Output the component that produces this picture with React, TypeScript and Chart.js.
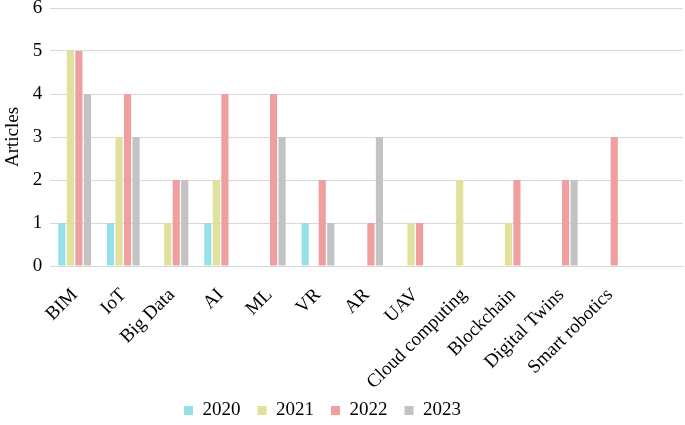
import React, { useEffect, useRef } from "react";
import { Chart, registerables } from "chart.js";

Chart.register(...registerables);

const categories = [
  "BIM", "IoT", "Big Data", "AI", "ML", "VR", "AR", "UAV",
  "Cloud computing", "Blockchain", "Digital Twins", "Smart robotics", "",
];
const years = ["2020", "2021", "2022", "2023"];
const v2020 = [1, 1, 0, 1, 0, 1, 0, 0, 0, 0, 0, 0, 0];
const v2021 = [5, 3, 1, 2, 0, 0, 0, 1, 2, 1, 0, 0, 0];
const v2022 = [5, 4, 2, 4, 4, 2, 1, 1, 0, 2, 2, 3, 0];
const v2023 = [4, 3, 2, 0, 3, 1, 3, 0, 0, 0, 2, 0, 0];
const colors = ["#96e1e8", "#e1e19b", "#ef9f9f", "#c3c3c3"];

const legendShift = {
  id: "legendShift",
  afterLayout(chart: any) {
    if (chart.legend) {
      chart.legend.top -= 7;
      chart.legend.bottom -= 7;
      chart.legend.left -= 20;
      chart.legend.right -= 20;
    }
  },
};

export default function App() {
  const ref = useRef<HTMLCanvasElement | null>(null);
  useEffect(() => {
    if (!ref.current) return;
    const font = "'Liberation Serif', 'Times New Roman', serif";
    const series = [v2020, v2021, v2022, v2023];
    const chart = new Chart(ref.current, {
      type: "bar",
      data: {
        labels: categories,
        datasets: series.map((d, i) => ({
          label: years[i],
          data: d,
          backgroundColor: colors[i],
          borderWidth: 0,
          categoryPercentage: 0.7,
          barPercentage: 0.84,
        })),
      },
      plugins: [legendShift],
      options: {
        animation: false,
        responsive: false,
        maintainAspectRatio: false,
        layout: { padding: { top: 0, right: 2, left: 2, bottom: 0 } },
        plugins: {
          tooltip: { enabled: false },
          legend: {
            position: "bottom",
            maxHeight: 34,
            labels: {
              font: { family: font, size: 19 },
              color: "#000",
              boxWidth: 9,
              boxHeight: 9,
              padding: 17,
            },
          },
        },
        scales: {
          x: {
            afterFit: (s: any) => { s.height = 125; },
            grid: { display: false },
            border: { display: true, color: "#d9d9d9", width: 1 },
            ticks: {
              font: { family: font, size: 19 },
              color: "#000",
              minRotation: 45,
              maxRotation: 45,
              autoSkip: false,
              padding: 10,
            },
          },
          y: {
            min: 0,
            max: 6,
            afterFit: (s: any) => { s.paddingTop = 8; },
            grid: { color: "#d9d9d9", lineWidth: 1, drawTicks: false },
            border: { display: false },
            ticks: {
              stepSize: 1,
              font: { family: font, size: 19, lineHeight: 0.8 },
              color: "#000",
              padding: 8,
            },
            title: {
              display: true,
              text: "Articles",
              font: { family: font, size: 19 },
              color: "#000",
              padding: 0,
            },
          },
        },
      },
    });
    return () => chart.destroy();
  }, []);
  return (
    <div style={{ position: "fixed", left: 0, top: 0, width: 685, height: 425, background: "#fff" }}>
      <canvas ref={ref} width={685} height={425} />
    </div>
  );
}
